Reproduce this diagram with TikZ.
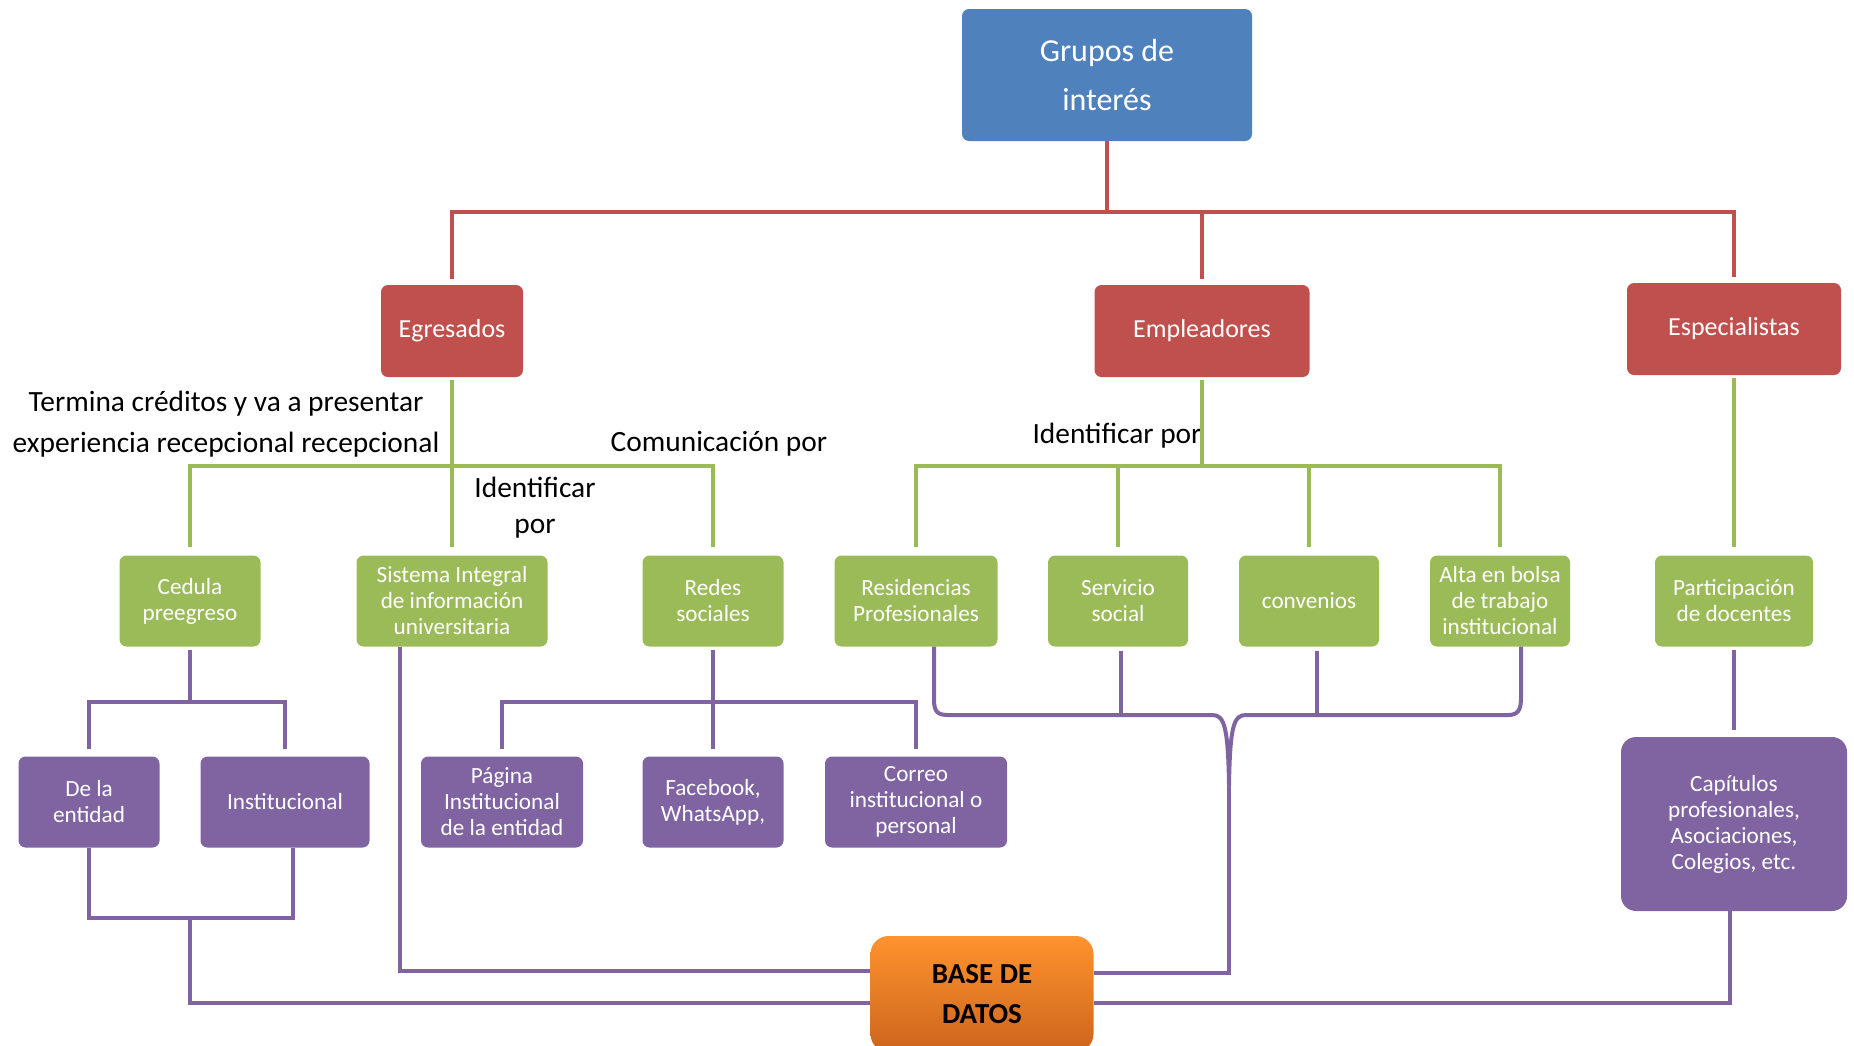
\documentclass[tikz,border=0pt]{standalone}
\usepackage{fontspec}
\setmainfont{Carlito}
\usetikzlibrary{calc}

\definecolor{azul}{HTML}{4F81BD}
\definecolor{rojo}{HTML}{C0504D}
\definecolor{verde}{HTML}{9BBB59}
\definecolor{morado}{HTML}{8064A2}
\definecolor{naranjaA}{HTML}{FF932E}
\definecolor{naranjaB}{HTML}{CC651C}

\tikzset{
  caja/.style={rectangle, rounded corners=7pt, text=white, align=center, inner sep=0pt},
  cajaRoja/.style={caja, fill=rojo, minimum height=92pt, font=\fontsize{26}{30}\selectfont},
  cajaVerde/.style={caja, fill=verde, minimum height=91pt, font=\fontsize{23.2}{26}\selectfont},
  cajaMorada/.style={caja, fill=morado, minimum height=91pt, font=\fontsize{23.2}{26}\selectfont},
  lineaRoja/.style={draw=rojo, line width=4.5pt},
  lineaVerde/.style={draw=verde, line width=4.5pt},
  lineaMorada/.style={draw=morado, line width=4pt},
  etiqueta/.style={align=center, font=\fontsize{29.4}{41}\selectfont}
}

\begin{document}
\begin{tikzpicture}[x=1pt, y=-1pt]
        \clip (0,0) rectangle (1854,1045);
        % cajas
        \node[caja, fill=azul, minimum width=290pt, minimum height=132pt, font=\fontsize{32}{49}\selectfont] (grupos) at (1107,75) {Grupos de\\interés};
        \node[cajaRoja, minimum width=142pt] (egresados) at (452,331) {Egresados};
        \node[cajaRoja, minimum width=215pt] (empleadores) at (1202,331) {Empleadores};
        \node[cajaRoja, minimum width=214pt] (especialistas) at (1734,329) {Especialistas};
        \node[cajaVerde, minimum width=141pt] (cedula) at (190,601) {Cedula\\preegreso};
        \node[cajaVerde, minimum width=191pt] (sistema) at (452,601) {Sistema Integral\\de información\\universitaria};
        \node[cajaVerde, minimum width=141pt] (redes) at (713,601) {Redes\\sociales};
        \node[cajaVerde, minimum width=163pt] (resid) at (916,601) {Residencias\\Profesionales};
        \node[cajaVerde, minimum width=140pt] (servicio) at (1118,601) {Servicio\\social};
        \node[cajaVerde, minimum width=140pt] (convenios) at (1309,601) {convenios};
        \node[cajaVerde, minimum width=140pt] (alta) at (1500,601) {Alta en bolsa\\de trabajo\\institucional};
        \node[cajaVerde, minimum width=158pt] (particip) at (1734,601) {Participación\\de docentes};
        \node[cajaMorada, minimum width=141pt] (entidad) at (89,802) {De la\\entidad};
        \node[cajaMorada, minimum width=169pt] (instit) at (285,802) {Institucional};
        \node[cajaMorada, minimum width=162pt] (pagina) at (502,802) {Página\\Institucional\\de la entidad};
        \node[cajaMorada, minimum width=141pt] (facebook) at (713,802) {Facebook,\\WhatsApp,};
        \node[cajaMorada, minimum width=182pt] (correo) at (916,802) {Correo\\institucional o\\personal};
        \node[cajaMorada, rounded corners=15pt, minimum width=226pt, minimum height=174pt] (capitulos) at (1734,824) {Capítulos\\profesionales,\\Asociaciones,\\Colegios, etc.};
        % base de datos
        \node[caja, rounded corners=18pt, top color=naranjaA, bottom color=naranjaB, text=black, minimum width=223pt, minimum height=116pt, font=\bfseries\fontsize{29}{40}\selectfont] (base) at (982,994) {BASE DE\\DATOS};
        % etiquetas
        \node[etiqueta] (termina) at (226,424) {Termina créditos y va a presentar\\experiencia recepcional recepcional};
        \node[etiqueta] (comunica) at (719,444) {Comunicación por};
        \node[etiqueta, font=\fontsize{29.4}{36}\selectfont] (identA) at (535,508) {Identificar\\por};
        \node[etiqueta] (identB) at (1117,436) {Identificar por};
        % lineas rojas
        \coordinate (r0) at (1107,212);
        \draw[lineaRoja] (grupos.south) -- (r0);
        \draw[lineaRoja, shorten <=6pt, shorten >=6pt] (egresados.north) |- (r0) -| (especialistas.north);
        \draw[lineaRoja, shorten >=6pt] (r0 -| empleadores) -- (empleadores.north);
        % lineas verdes
        \coordinate (v1) at (452,466);
        \coordinate (v2) at (1202,466);
        \draw[lineaVerde, shorten <=3pt, shorten >=8pt] (egresados.south) -- (sistema.north);
        \draw[lineaVerde, shorten <=8pt, shorten >=8pt] (cedula.north) |- (v1) -| (redes.north);
        \draw[lineaVerde, shorten <=3pt] (empleadores.south) -- (v2);
        \draw[lineaVerde, shorten <=8pt, shorten >=8pt] (resid.north) |- (v2) -| (alta.north);
        \draw[lineaVerde, shorten >=8pt] (v2 -| servicio) -- (servicio.north);
        \draw[lineaVerde, shorten >=8pt] (v2 -| convenios) -- (convenios.north);
        \draw[lineaVerde, shorten <=3pt, shorten >=8pt] (especialistas.south) -- (particip.north);
        % lineas moradas
        \coordinate (m1) at (190,702);
        \coordinate (m2) at (713,702);
        \coordinate (m3) at (190,918);
        \coordinate (llave) at (1229,717);
        \coordinate (tip) at (1229,785);
        \draw[lineaMorada, shorten <=3pt] (cedula.south) -- (m1);
        \draw[lineaMorada, shorten <=7pt, shorten >=7pt] (entidad.north) |- (m1) -| (instit.north);
        \draw[lineaMorada, shorten <=3pt, shorten >=7pt] (redes.south) -- (facebook.north);
        \draw[lineaMorada, shorten <=7pt, shorten >=7pt] (pagina.north) |- (m2) -| (correo.north);
        \draw[lineaMorada, shorten <=3pt, shorten >=7pt] (particip.south) -- (capitulos.north);
        \draw[lineaMorada] (entidad.south) |- (m3) -| ([xshift=8pt]instit.south);
        \draw[lineaMorada] (m3) |- ([yshift=-9pt]base.west);
        \draw[lineaMorada] ([xshift=-52pt]sistema.south) |- ([yshift=23pt]base.west);
        \draw[lineaMorada] ([xshift=18pt]resid.south) -- (934,700) .. controls (934,712) and (938,715) .. (948,715)
            -- (1212,715) .. controls (1224,715) and (1228,725) .. (tip)
            .. controls (1230,725) and (1234,715) .. (1246,715) -- (1508,715)
            .. controls (1518,715) and (1521,710) .. (1521,698) -- ([xshift=21pt]alta.south);
        \draw[lineaMorada, shorten <=4pt] ([xshift=3pt]servicio.south) -- ([xshift=3pt]servicio.south |- llave);
        \draw[lineaMorada, shorten <=4pt] ([xshift=8pt]convenios.south) -- ([xshift=8pt]convenios.south |- llave);
        \draw[lineaMorada] (tip) |- ([yshift=21pt]base.east);
        \draw[lineaMorada] ([xshift=-4pt]capitulos.south) |- ([yshift=-9pt]base.east);
\end{tikzpicture}
\end{document}
